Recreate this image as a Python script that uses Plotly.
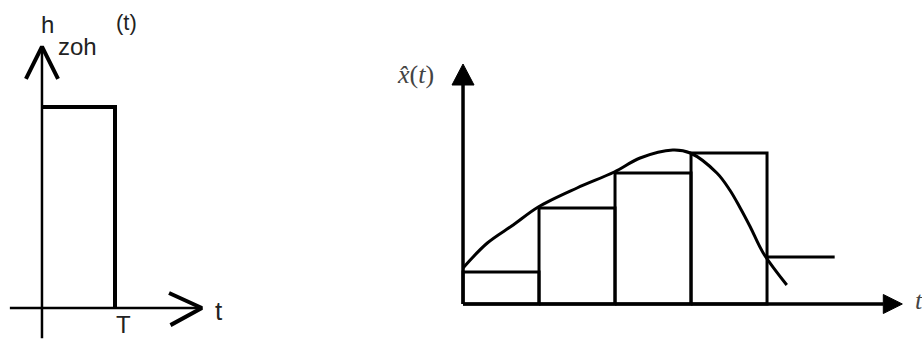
import plotly.graph_objects as go

# ---- left panel: impulse response of the zero-order hold (unit pulse of width T)
pulse_t = [0, 1, 1]
pulse_h = [1, 1, 0]
left_axis_t = [-0.44, 2.19]     # horizontal axis extent (units of T)
left_axis_h = [-0.15, 1.30]     # vertical axis extent

# ---- right panel: continuous signal and its zero-order-hold reconstruction
sample_t = [0, 1, 2, 3, 4]
held_x = [0.32, 0.96, 1.31, 1.51, 0.47]
hold_end_t = 4.89
curve_t = [0.00, 0.32, 0.66, 0.99, 1.50, 1.99, 2.33, 2.76, 2.99, 3.34, 3.51,
           3.64, 3.78, 3.95, 4.26]
curve_x = [0.36, 0.61, 0.79, 0.97, 1.16, 1.32, 1.46, 1.54, 1.51, 1.31, 1.14,
           0.97, 0.77, 0.51, 0.19]
right_axis_t = [0.0, 5.78]
right_axis_x = [0.0, 2.40]

INK = "black"
fig = go.Figure()


def line(xs, ys, width, ax="x", ay="y", color=INK, shape="linear"):
    fig.add_trace(go.Scatter(x=xs, y=ys, mode="lines", xaxis=ax, yaxis=ay,
                             line=dict(color=color, width=width, shape=shape),
                             hoverinfo="skip", showlegend=False))


def filled(xs, ys, ax, ay):
    fig.add_trace(go.Scatter(x=xs, y=ys, mode="lines", fill="toself",
                             fillcolor=INK, xaxis=ax, yaxis=ay,
                             line=dict(color=INK, width=1),
                             hoverinfo="skip", showlegend=False))


# left panel axes with open chevron heads
line(left_axis_t, [0, 0], 2.5)
line([0, 0], left_axis_h, 2.5)
ytip = left_axis_h[1]
line([-0.22, 0, 0.22], [ytip - 0.16, ytip, ytip - 0.16], 4)
xtip = left_axis_t[1]
line([xtip - 0.45, xtip, xtip - 0.43], [0.075, 0, -0.085], 4)
line(pulse_t, pulse_h, 4)

# right panel: hold rectangles, last held level, signal curve
for k in range(len(sample_t) - 1):
    t0, t1 = sample_t[k], sample_t[k] + 1
    v = held_x[k]
    line([t0, t0, t1, t1, t0], [0, v, v, 0, 0], 3, "x2", "y2")
line([sample_t[-1], hold_end_t], [held_x[-1], held_x[-1]], 3, "x2", "y2")
line(curve_t, curve_x, 3, "x2", "y2", shape="spline")

# right panel axes with solid triangular heads
x_head, x_half = 0.25, 0.095
y_head, y_half = 0.21, 0.145
line([right_axis_t[0], right_axis_t[1] - x_head], [0, 0], 3.5, "x2", "y2")
line([0, 0], [0, right_axis_x[1] - y_head], 3.5, "x2", "y2")
tx = right_axis_t[1]
filled([tx - x_head, tx, tx - x_head, tx - x_head], [x_half, 0, -x_half, x_half], "x2", "y2")
ty = right_axis_x[1]
filled([-y_half, 0, y_half, -y_half], [ty - y_head, ty, ty - y_head, ty - y_head], "x2", "y2")

sans = dict(family="Liberation Sans, Arial, sans-serif", size=24, color="#222")
serif = dict(family="Liberation Serif, Times New Roman, serif", size=26, color="#444")


def label(text, x, y, font, ax="x", ay="y", xanchor="center"):
    fig.add_annotation(text=text, x=x, y=y, xref=ax, yref=ay, showarrow=False,
                       font=font, xanchor=xanchor, yanchor="middle")


label("h", 0.08, 1.41, sans)
label("zoh", 0.48, 1.30, sans)
label("(t)", 1.16, 1.42, dict(sans, size=22))
label("T", 1.11, -0.083, sans)
label("t", 2.42, -0.015, dict(sans, size=26))
label("<i>x̂</i>(<i>t</i>)", -0.62, 2.30, serif, "x2", "y2")
label("<i>t</i>", 5.92, 0.04, serif, "x2", "y2", xanchor="left")

fig.update_layout(
    width=922, height=339, margin=dict(l=0, r=0, t=0, b=0),
    paper_bgcolor="white", plot_bgcolor="white",
    xaxis=dict(domain=[0, 250 / 922], range=[-0.575, 2.849], visible=False),
    yaxis=dict(domain=[0, 1], range=[-0.154, 1.532], visible=False),
    xaxis2=dict(domain=[350 / 922, 1], range=[-1.487, 6.039], visible=False, anchor="y2"),
    yaxis2=dict(domain=[0, 1], range=[-0.35, 3.04], visible=False, anchor="x2"),
)

fig.write_html("out.html")
